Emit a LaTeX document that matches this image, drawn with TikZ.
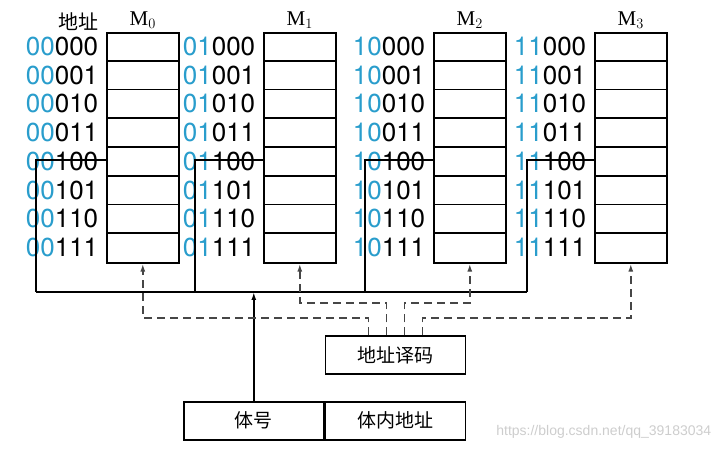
\documentclass[tikz,border=0pt]{standalone}
\usepackage{fontspec}
\setmainfont{Liberation Sans}
\newfontfamily\numfont{TeX Gyre Heros}
\newfontfamily\cjk{Noto Sans CJK SC}
\newfontfamily\mfont{Liberation Serif}
\usetikzlibrary{calc,positioning,arrows.meta}
\definecolor{addrblue}{RGB}{41,157,204}
\definecolor{markgray}{RGB}{205,205,205}
\definecolor{dashgray}{RGB}{70,70,70}

\begin{document}
\begin{tikzpicture}[x=1pt,y=-1pt,line width=1.6pt,>={Latex[length=8pt,width=5pt]},
	bank/.style={draw,minimum width=72pt,minimum height=230pt,inner sep=0pt,anchor=north west},
	addr/.style={anchor=east,inner sep=0pt,font=\fontsize{26}{26}\numfont},
	mlabel/.style={anchor=south,inner sep=0pt,font=\fontsize{21}{21}\mfont},
	field/.style={draw,minimum width=140pt,minimum height=38pt,inner sep=0pt,font=\fontsize{19}{19}\cjk},
	dline/.style={dash pattern=on 8pt off 5pt,draw=dashgray,line width=1.6pt}]
		%%%%% START %%%%%
		
		\useasboundingbox (0,0) rectangle (721,470);
		
		% memory banks
		\foreach \bx/\pre/\lx [count=\i from 0] in {106/00/36, 263/01/195, 433/10/365, 594/11/527} {
			\node[bank] (m\i) at (\bx,32) {};
			\node[mlabel] (ml\i) at ($(m\i.north)+(0,-3)$) {M$_{\i}$};
			\foreach \suf [count=\j from 0] in {000,001,010,011,100,101,110,111}
				\node[addr] (a\i\j) at (\bx-7,46.4+\j*28.75) {\textcolor{addrblue}{\pre}\suf};
			\foreach \j in {1,...,7}
				\draw (m\i.north west) ++(0,\j*28.75) -- ++(72,0);
			\coordinate (t\i) at (\lx,160);
			\coordinate (b\i) at (\lx,292);
			\draw (m\i.west |- t\i) -- (t\i) -- (b\i);
		}
		
		\node[anchor=south east,inner sep=0pt,font=\fontsize{20}{20}\cjk] (addrhead) at ($(a00.north east)+(0,-5)$) {地址};
		
		% bus
		\draw (b0) -- (b3);
		
		% address register
		\node[field,anchor=north west] (bankno) at (183,401) {体号};
		\node[field,right=0pt of bankno] (inner) {体内地址};
		\node[field,above=26pt of inner] (decode) {地址译码};
		
		\draw[->] (bankno.north) -- (bankno.north |- b0);
		
		% decoder outputs
		\coordinate (up) at (0,303);
		\coordinate (low) at (0,318);
		\coordinate (d0) at ($(decode.north)+(-27,0)$);
		\coordinate (d1) at ($(decode.north)+(-9,0)$);
		\coordinate (d2) at ($(decode.north)+(9,0)$);
		\coordinate (d3) at ($(decode.north)+(27,0)$);
		
		\draw[dline,->] (d0) -- (d0 |- low) -- (m0.south |- low) -- (m0.south);
		\draw[dline,->] (d1) -- (d1 |- up) -- (m1.south |- up) -- (m1.south);
		\draw[dline,->] (d2) -- (d2 |- up) -- (m2.south |- up) -- (m2.south);
		\draw[dline,->] (d3) -- (d3 |- low) -- (m3.south |- low) -- (m3.south);
		
		\node[anchor=east,inner sep=0pt,text=markgray,font=\fontsize{14}{14}\selectfont] (mark) at (712,432) {https://blog.csdn.net/qq\_39183034};
		
		%%%%% END %%%%%
\end{tikzpicture}
\end{document}
